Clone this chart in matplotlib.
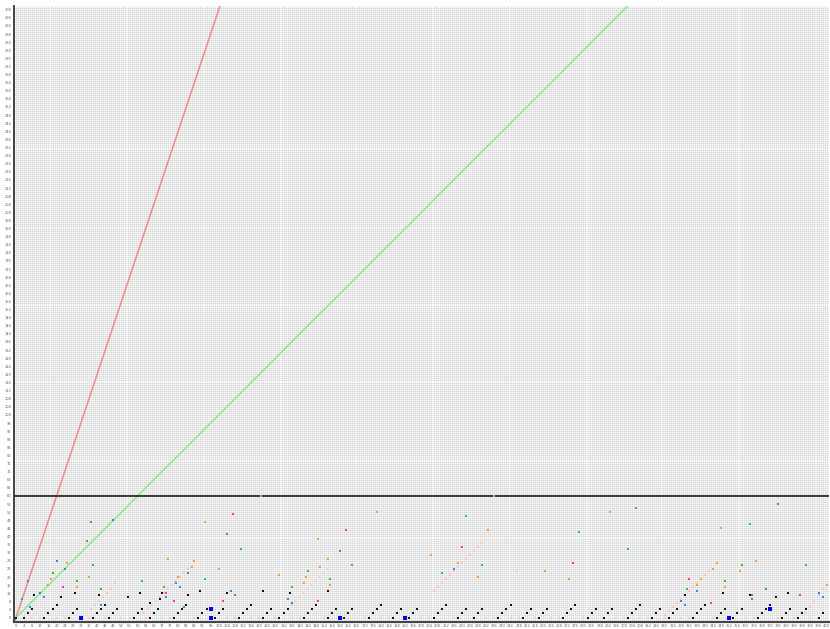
import matplotlib.pyplot as plt
import numpy as np

plt.rcParams['figure.dpi'] = 100

# reference lines
slopes = [3, 1]
slope_colors = ['#f28a8a', '#8ee88e']
threshold = 60

# coloured points (x, y)
blue_x = [48, 37, 20, 24, 6, 12, 3, 14, 42, 7, 104, 160, 106, 108, 134, 136, 85, 74, 79, 81, 83,
          216, 376, 336, 370, 396, 398, 363, 328, 330]
blue_y = [48, 47, 28, 24, 18, 12, 9, 10, 6, 5, 41, 33, 13, 11, 9, 7, 22, 10, 17, 15, 5,
          24, 56, 13, 14, 12, 10, 9, 8, 6]
dblue_x = [32, 96, 160, 192, 352, 96, 372]
dblue_y = [0, 0, 0, 0, 0, 4, 4]
green_x = [35, 38, 18, 30, 62, 42, 111, 166, 222, 210, 230, 278, 306, 302, 362, 390, 73, 93,
           144, 155, 136, 358, 350, 331]
green_y = [38, 26, 22, 18, 18, 14, 34, 26, 50, 22, 26, 42, 54, 34, 46, 26, 15, 19,
           23, 19, 15, 26, 18, 14]
orange_x = [25, 36, 17, 16, 30, 121, 93, 178, 149, 236, 233, 205, 218, 228, 261, 273, 293, 348,
            75, 88, 87, 80, 100, 130, 150, 154, 143, 142, 155, 365, 346, 344, 357, 338, 336, 350, 400]
orange_y = [27, 20, 19, 16, 15, 60, 47, 52, 39, 60, 43, 31, 27, 20, 23, 19, 52, 44,
            29, 28, 25, 20, 24, 21, 25, 29, 20, 17, 16, 28, 27, 24, 23, 19, 16, 15, 16]
magenta_x = [23, 107, 163, 220, 275, 74, 78, 102, 149, 332, 343, 363, 387]
magenta_y = [15, 51, 43, 35, 27, 12, 8, 8, 8, 19, 7, 11, 11]
black_x = [0, 29, 61, 22, 55, 9, 41, 72, 71, 85, 91, 66, 104, 122, 135, 154, 330, 349, 381, 375, 362,
           4, 6, 8, 14, 16, 18, 20, 26, 28, 30, 38, 40, 42, 44, 46, 48, 50, 58, 60, 62,
           66, 68, 70, 78, 80, 82, 84, 90, 92, 94, 98, 100, 102, 110, 112, 114, 116,
           122, 124, 126, 130, 132, 134, 142, 144, 146, 148, 154, 156, 158, 162, 164, 166,
           174, 176, 178, 180, 186, 188, 190, 194, 196, 198, 206, 208, 210, 212, 218, 220, 222,
           226, 228, 230, 238, 240, 242, 244, 250, 252, 254, 258, 260, 262, 270, 272, 274, 276,
           282, 284, 286, 290, 292, 294, 302, 304, 306, 308, 314, 316, 318, 322, 324, 326,
           334, 336, 338, 340, 346, 348, 350, 354, 356, 358, 366, 368, 370, 372, 378, 380, 382,
           386, 388, 390, 396, 398]
black_y = [0, 12, 12, 10, 10, 11, 11, 12, 9, 11, 13, 7, 12, 13, 12, 13, 11, 12, 12, 10, 11,
           0, 2, 4, 0, 2, 4, 6, 0, 2, 4, 0, 2, 4, 6, 0, 2, 4, 0, 2, 4,
           0, 2, 4, 0, 2, 4, 6, 0, 2, 4, 0, 2, 4, 0, 2, 4, 6,
           0, 2, 4, 0, 2, 4, 0, 2, 4, 6, 0, 2, 4, 0, 2, 4,
           0, 2, 4, 6, 0, 2, 4, 0, 2, 4, 0, 2, 4, 6, 0, 2, 4,
           0, 2, 4, 0, 2, 4, 6, 0, 2, 4, 0, 2, 4, 0, 2, 4, 6,
           0, 2, 4, 0, 2, 4, 0, 2, 4, 6, 0, 2, 4, 0, 2, 4,
           0, 2, 4, 6, 0, 2, 4, 0, 2, 4, 0, 2, 4, 6, 0, 2, 4,
           0, 2, 4, 0, 2]
pink_x = [49, 247, 8, 12, 20, 24, 36, 44, 52, 56, 64, 72, 76, 88, 104, 108, 116, 120, 128, 136,
          140, 152, 168, 172, 180, 184, 192, 200, 204, 216, 232, 236, 244, 248, 256, 264, 268,
          280, 296, 300, 308, 312, 320, 328, 332, 344, 360, 364, 376, 384, 392]
pink_y = [17, 23] + [0] * 49
# faint diagonal runs
pink_x += [37, 39, 41, 43, 45, 47,
           63, 65, 67, 69, 71, 73, 75, 77, 79, 81, 83, 85,
           132, 134, 136, 138, 140, 142, 144, 146, 148, 150, 152, 154,
           206, 208, 210, 212, 214, 216, 218, 220, 222, 224, 226, 228, 230,
           320, 322, 324, 326, 328, 330, 332, 334, 336, 338, 340, 342,
           390, 392, 394, 396, 398]
pink_y += [4, 6, 8, 10, 12, 14,
           2, 4, 6, 8, 10, 12, 14, 16, 18, 20, 22, 24,
           2, 4, 6, 8, 10, 12, 14, 16, 18, 20, 22, 24,
           13, 15, 17, 19, 21, 23, 25, 27, 29, 31, 33, 35, 37,
           1, 3, 5, 7, 9, 11, 13, 15, 17, 19, 21, 23,
           2, 5, 8, 11, 14]

fig = plt.figure(figsize=(8.3, 6.29))
ax = fig.add_axes([0.0169, 0.0118, 0.9815, 0.9792])
ax.set_xlim(-1, 401)
ax.set_ylim(-2, 302)

ax.set_xticks(np.arange(0, 401, 4))
ax.set_yticks(np.arange(0, 301, 4))
ax.set_xticks(np.arange(0, 401, 1), minor=True)
ax.set_yticks(np.arange(0, 302, 1), minor=True)
ax.tick_params(which='both', length=0, labelsize=2.6, labelcolor='#666666', pad=2)
ax.grid(which='both', color='#dadada', linewidth=0.5)
ax.set_axisbelow(True)

for side in ['top', 'right']:
    ax.spines[side].set_visible(False)
ax.spines['left'].set_color('#333333')
ax.spines['left'].set_linewidth(1.3)
ax.spines['bottom'].set_color('#444444')
ax.spines['bottom'].set_linewidth(1.6)

for s, c in zip(slopes, slope_colors):
    ax.axline((0, 0), slope=s, color=c, linewidth=1.1, zorder=2)
ax.axhline(threshold, color='#3a3a3a', linewidth=1.4, zorder=2)

ax.scatter(pink_x, pink_y, s=3, marker='s', color='#ffc4c4', linewidths=0, zorder=3)
ax.scatter(black_x, black_y, s=4, marker='s', color='#111111', linewidths=0, zorder=3)
ax.scatter(orange_x, orange_y, s=4, marker='s', color='#ff9a3c', linewidths=0, zorder=3)
ax.scatter(green_x, green_y, s=4.5, marker='s', color='#22cc22', linewidths=0, zorder=3)
ax.scatter(magenta_x, magenta_y, s=4, marker='s', color='#ff3399', linewidths=0, zorder=3)
ax.scatter(blue_x, blue_y, s=4.5, marker='s', color='#2a8fe0', linewidths=0, zorder=3)
ax.scatter(dblue_x, dblue_y, s=7, marker='s', color='#0000ee', linewidths=0, zorder=3)

fig.savefig('out.png', dpi=100)
